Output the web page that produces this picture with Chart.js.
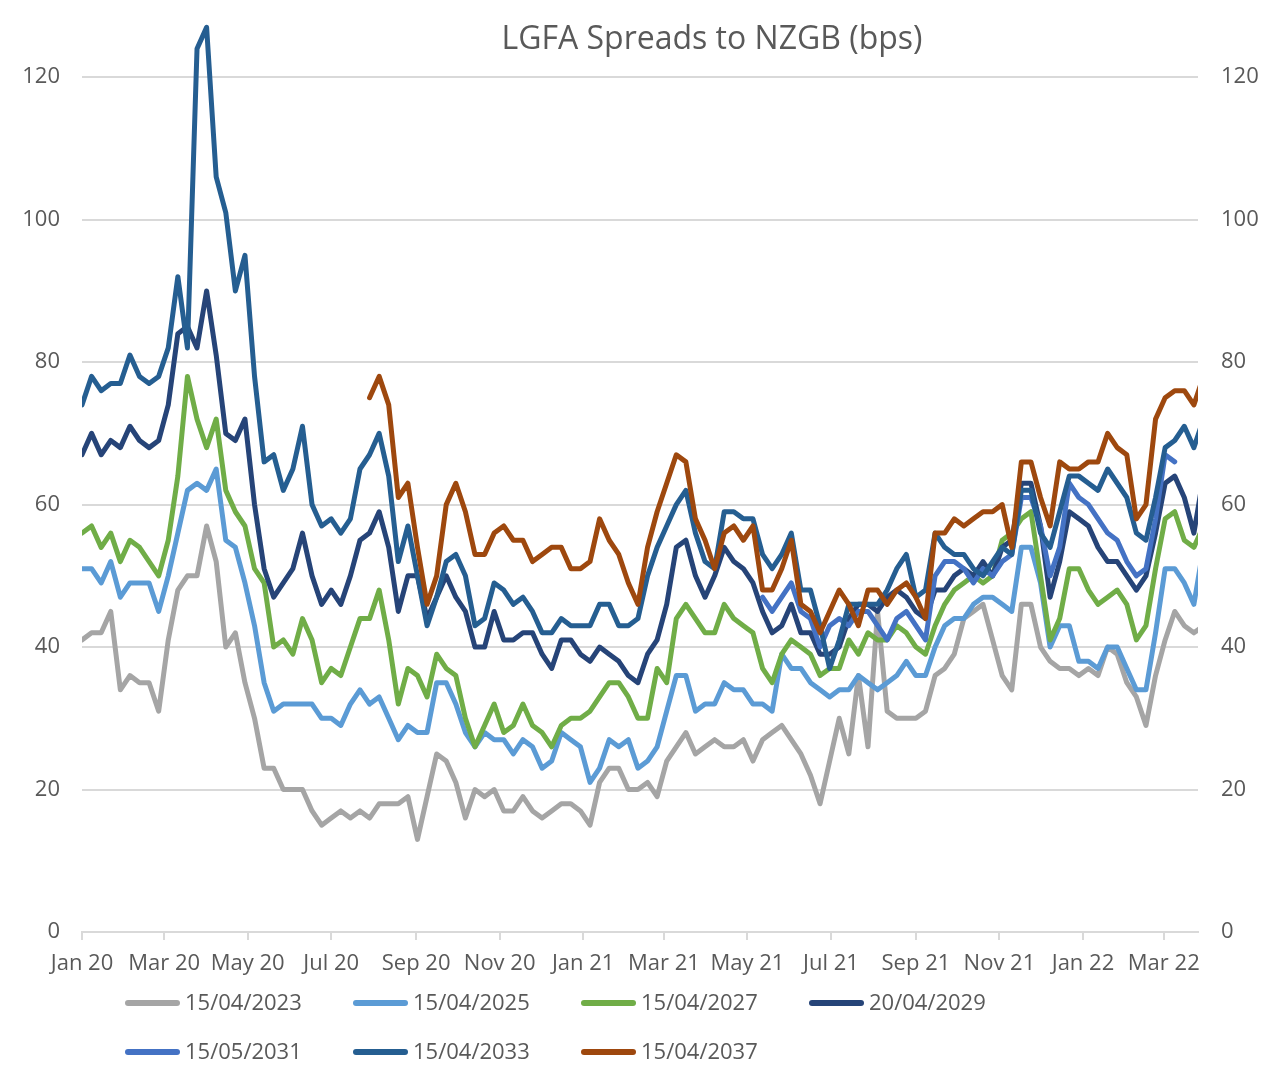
<!DOCTYPE html>
<html>
<head>
<meta charset="utf-8">
<title>LGFA Spreads to NZGB (bps)</title>
<script src="https://cdn.jsdelivr.net/npm/chart.js@4.4.1/dist/chart.umd.min.js"></script>
<style>
  html, body { margin: 0; padding: 0; background: #ffffff; }
  #wrap { width: 1268px; height: 1081px; }
</style>
</head>
<body>
<div id="wrap"><canvas id="chart" width="1268" height="1081"></canvas></div>
<script>
// chart text
const chartTitle = 'LGFA Spreads to NZGB (bps)';

// x axis: weekly observations, days counted from firstDay
const firstDay = '2020-01-01';
const lastDay = '2022-03-26';
const tickDates = ['2020-01-01', '2020-03-01', '2020-05-01', '2020-07-01', '2020-09-01', '2020-11-01',
  '2021-01-01', '2021-03-01', '2021-05-01', '2021-07-01', '2021-09-01', '2021-11-01',
  '2022-01-01', '2022-03-01'];
const tickLabels = ['Jan 20', 'Mar 20', 'May 20', 'Jul 20', 'Sep 20', 'Nov 20', 'Jan 21',
  'Mar 21', 'May 21', 'Jul 21', 'Sep 21', 'Nov 21', 'Jan 22', 'Mar 22'];
const yTicks = [0, 20, 40, 60, 80, 100, 120];

// series (bps), one value per week from the start date
const s2023Start = '2020-01-01';
const s2023 = [41, 42, 42, 45, 34, 36, 35, 35, 31, 41,
  48, 50, 50, 57, 52, 40, 42, 35, 30, 23,
  23, 20, 20, 20, 17, 15, 16, 17, 16, 17,
  16, 18, 18, 18, 19, 13, 19, 25, 24, 21,
  16, 20, 19, 20, 17, 17, 19, 17, 16, 17,
  18, 18, 17, 15, 21, 23, 23, 20, 20, 21,
  19, 24, 26, 28, 25, 26, 27, 26, 26, 27,
  24, 27, 28, 29, 27, 25, 22, 18, 24, 30,
  25, 36, 26, 45, 31, 30, 30, 30, 31, 36,
  37, 39, 44, 45, 46, 41, 36, 34, 46, 46,
  40, 38, 37, 37, 36, 37, 36, 40, 39, 35,
  33, 29, 36, 41, 45, 43, 42, 43];

const s2025Start = '2020-01-01';
const s2025 = [51, 51, 49, 52, 47, 49, 49, 49, 45, 50,
  56, 62, 63, 62, 65, 55, 54, 49, 43, 35,
  31, 32, 32, 32, 32, 30, 30, 29, 32, 34,
  32, 33, 30, 27, 29, 28, 28, 35, 35, 32,
  28, 26, 28, 27, 27, 25, 27, 26, 23, 24,
  28, 27, 26, 21, 23, 27, 26, 27, 23, 24,
  26, 31, 36, 36, 31, 32, 32, 35, 34, 34,
  32, 32, 31, 39, 37, 37, 35, 34, 33, 34,
  34, 36, 35, 34, 35, 36, 38, 36, 36, 40,
  43, 44, 44, 46, 47, 47, 46, 45, 54, 54,
  49, 40, 43, 43, 38, 38, 37, 40, 40, 37,
  34, 34, 42, 51, 51, 49, 46, 54];

const s2027Start = '2020-01-01';
const s2027 = [56, 57, 54, 56, 52, 55, 54, 52, 50, 55,
  64, 78, 72, 68, 72, 62, 59, 57, 51, 49,
  40, 41, 39, 44, 41, 35, 37, 36, 40, 44,
  44, 48, 41, 32, 37, 36, 33, 39, 37, 36,
  30, 26, 29, 32, 28, 29, 32, 29, 28, 26,
  29, 30, 30, 31, 33, 35, 35, 33, 30, 30,
  37, 35, 44, 46, 44, 42, 42, 46, 44, 43,
  42, 37, 35, 39, 41, 40, 39, 36, 37, 37,
  41, 39, 42, 41, 41, 43, 42, 40, 39, 43,
  46, 48, 49, 50, 49, 50, 55, 56, 58, 59,
  50, 41, 44, 51, 51, 48, 46, 47, 48, 46,
  41, 43, 51, 58, 59, 55, 54, 57];

const s2029Start = '2020-01-01';
const s2029 = [67, 70, 67, 69, 68, 71, 69, 68, 69, 74,
  84, 85, 82, 90, 81, 70, 69, 72, 60, 51,
  47, 49, 51, 56, 50, 46, 48, 46, 50, 55,
  56, 59, 54, 45, 50, 50, 44, 47, 50, 47,
  45, 40, 40, 45, 41, 41, 42, 42, 39, 37,
  41, 41, 39, 38, 40, 39, 38, 36, 35, 39,
  41, 46, 54, 55, 50, 47, 50, 54, 52, 51,
  49, 45, 42, 43, 46, 42, 42, 39, 39, 40,
  44, 46, 46, 45, 47, 48, 47, 45, 44, 48,
  48, 50, 51, 50, 52, 50, 54, 55, 63, 63,
  57, 47, 52, 59, 58, 57, 54, 52, 52, 50,
  48, 50, 56, 63, 64, 61, 56, 64];

const s2031Start = '2021-05-12';
const s2031 = [47, 45, 47, 49, 45, 44, 40, 43, 44,
  43, 45, 45, 43, 41, 44, 45, 43, 41, 50,
  52, 52, 51, 49, 51, 50, 52, 53, 61, 61,
  57, 50, 54, 63, 61, 60, 58, 56, 55, 52,
  50, 51, 58, 67, 66];

const s2033Start = '2020-01-01';
const s2033 = [74, 78, 76, 77, 77, 81, 78, 77, 78, 82,
  92, 82, 124, 127, 106, 101, 90, 95, 78, 66,
  67, 62, 65, 71, 60, 57, 58, 56, 58, 65,
  67, 70, 64, 52, 57, 50, 43, 47, 52, 53,
  50, 43, 44, 49, 48, 46, 47, 45, 42, 42,
  44, 43, 43, 43, 46, 46, 43, 43, 44, 50,
  54, 57, 60, 62, 56, 52, 51, 59, 59, 58,
  58, 53, 51, 53, 56, 48, 48, 43, 37, 41,
  46, 46, 46, 46, 48, 51, 53, 47, 48, 56,
  54, 53, 53, 51, 50, 52, 54, 53, 62, 62,
  56, 54, 59, 64, 64, 63, 62, 65, 63, 61,
  56, 55, 61, 68, 69, 71, 68, 72];

const s2037Start = '2020-07-29';
const s2037 = [75, 78, 74, 61, 63, 54, 46, 50, 60, 63,
  59, 53, 53, 56, 57, 55, 55, 52, 53, 54,
  54, 51, 51, 52, 58, 55, 53, 49, 46, 54,
  59, 63, 67, 66, 58, 55, 51, 56, 57, 55,
  57, 48, 48, 51, 55, 46, 45, 42, 45, 48,
  46, 43, 48, 48, 46, 48, 49, 47, 44, 56,
  56, 58, 57, 58, 59, 59, 60, 54, 66, 66,
  61, 57, 66, 65, 65, 66, 66, 70, 68, 67,
  58, 60, 72, 75, 76, 76, 74, 78];

const dayMs = 86400000;
function dayOf(s) {
  return (Date.parse(s) - Date.parse(firstDay)) / dayMs;
}
function toPoints(values, start) {
  const d0 = dayOf(start);
  return values.map((v, i) => ({ x: d0 + i * 7, y: v }));
}

const tickDays = tickDates.map(dayOf);
const textColor = '#595959';
const gridColor = '#D9D9D9';
const font = { family: "'Open Sans', 'Noto Sans', sans-serif", size: 22 };

// title drawn over the top of the plot area (as in the original)
const titlePlugin = {
  id: 'overlayTitle',
  afterDraw(chart) {
    const { ctx, chartArea } = chart;
    ctx.save();
    ctx.font = "32px 'Open Sans', 'Noto Sans', sans-serif";
    ctx.fillStyle = textColor;
    ctx.textAlign = 'center';
    ctx.textBaseline = 'alphabetic';
    ctx.fillText(chartTitle, (chartArea.left + chartArea.right) / 2 + 72, 49);
    ctx.restore();
  }
};

// legend laid out in fixed columns, two rows
const legendPlugin = {
  id: 'gridLegend',
  afterDraw(chart) {
    const { ctx, chartArea } = chart;
    ctx.save();
    ctx.font = "22px 'Open Sans', 'Noto Sans', sans-serif";
    ctx.textAlign = 'left';
    ctx.textBaseline = 'middle';
    chart.data.datasets.forEach((ds, i) => {
      const x = chartArea.left + 43 + (i % 4) * 228;
      const y = chartArea.bottom + 71 + Math.floor(i / 4) * 49;
      ctx.strokeStyle = ds.borderColor;
      ctx.lineWidth = 6;
      ctx.lineCap = 'round';
      ctx.beginPath();
      ctx.moveTo(x + 3, y);
      ctx.lineTo(x + 52, y);
      ctx.stroke();
      ctx.fillStyle = textColor;
      ctx.fillText(ds.label, x + 60, y + 1);
    });
    ctx.restore();
  }
};

function line(label, values, start, color, order) {
  return {
    label: label,
    data: toPoints(values, start),
    borderColor: color,
    backgroundColor: color,
    borderWidth: 5,
    pointRadius: 0,
    tension: 0,
    borderJoinStyle: 'round',
    borderCapStyle: 'round',
    order: order
  };
}

const yTickOpts = (pad) => ({
  stepSize: 20,
  includeBounds: false,
  padding: pad,
  color: textColor,
  font: font,
  callback: v => (yTicks.includes(v) ? v : '')
});

new Chart(
  document.getElementById('chart'),
  {
    type: 'line',
    data: {
      datasets: [
        line('15/04/2023', s2023, s2023Start, '#A5A5A5', 6),
        line('15/04/2025', s2025, s2025Start, '#5B9BD5', 5),
        line('15/04/2027', s2027, s2027Start, '#70AD47', 4),
        line('20/04/2029', s2029, s2029Start, '#264478', 3),
        line('15/05/2031', s2031, s2031Start, '#4472C4', 2),
        line('15/04/2033', s2033, s2033Start, '#255E91', 1),
        line('15/04/2037', s2037, s2037Start, '#9E480E', 0)
      ]
    },
    options: {
      responsive: false,
      animation: false,
      devicePixelRatio: 1,
      layout: { padding: { top: 6, bottom: 99, left: 0, right: 0 } },
      scales: {
        x: {
          type: 'linear',
          min: 0,
          max: dayOf(lastDay),
          afterBuildTicks: s => { s.ticks = tickDays.map(v => ({ value: v })); },
          afterFit: s => { s.height = 50; s.paddingLeft = 0; s.paddingRight = 0; },
          ticks: {
            autoSkip: false,
            maxRotation: 0,
            padding: 11,
            color: textColor,
            font: font,
            callback: v => tickLabels[tickDays.indexOf(v)]
          },
          grid: {
            drawOnChartArea: false,
            drawTicks: true,
            tickLength: 8,
            color: gridColor,
            lineWidth: 2
          },
          border: { display: true, color: gridColor, width: 2 }
        },
        y: {
          position: 'left',
          min: 0,
          max: 130,
          afterFit: s => { s.width = 82; s.paddingTop = 0; s.paddingBottom = 0; },
          ticks: yTickOpts(22),
          grid: { color: gridColor, lineWidth: 2, drawTicks: false },
          border: { display: false }
        },
        y2: {
          position: 'right',
          min: 0,
          max: 130,
          afterFit: s => { s.width = 70; s.paddingTop = 0; s.paddingBottom = 0; },
          ticks: yTickOpts(23),
          grid: { display: false, drawTicks: false },
          border: { display: false }
        }
      },
      plugins: {
        legend: { display: false },
        tooltip: { enabled: false }
      }
    },
    plugins: [titlePlugin, legendPlugin]
  }
);
</script>
</body>
</html>
